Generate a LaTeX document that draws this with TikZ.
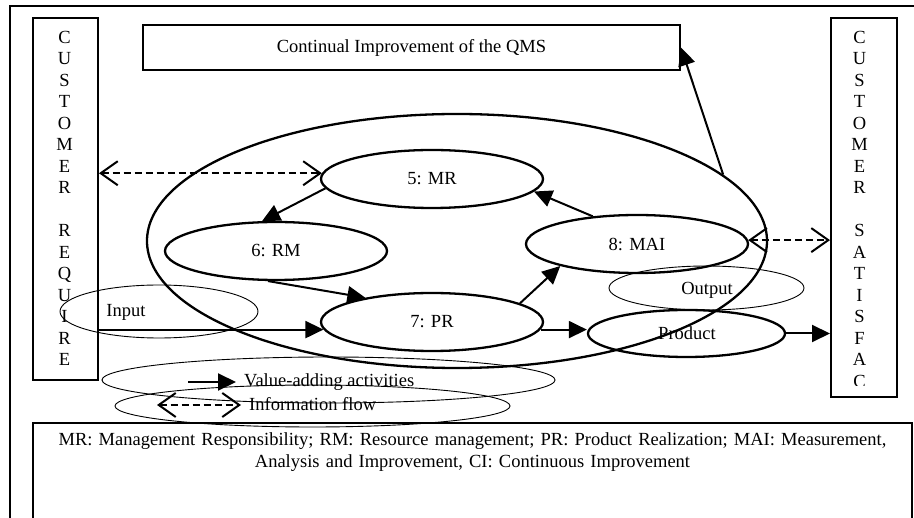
\documentclass[tikz,border=0pt]{standalone}
\usepackage{fontspec}
\setmainfont{Liberation Serif}
\usetikzlibrary{arrows.meta,shapes.geometric}
\newcommand\myfs{\fontsize{18.5}{22}\selectfont}
\begin{document}
\begin{tikzpicture}[x=1pt,y=-1pt,
  boxn/.style={draw, line width=2pt, rectangle, inner sep=0},
  proc/.style={draw, ellipse, line width=2.3pt, minimum width=222pt, minimum height=58pt, inner sep=0, font=\myfs},
  thinell/.style={draw, ellipse, line width=0.9pt, inner sep=0},
  flow/.style={line width=2pt, -{Triangle[length=18pt,width=17pt]}},
  info/.style={line width=2pt, dash pattern=on 7pt off 4pt, {Straight Barb[length=17pt,width=24pt]}-{Straight Barb[length=17pt,width=24pt]}},
  lbl/.style={inner sep=0, font=\myfs},
]
\useasboundingbox (0,0) rectangle (914,518);
\clip (0,0) rectangle (914,518);
\fill[white] (0,0) rectangle (914,518);
% outer frame
\draw[line width=2pt] (10,6) rectangle (940,560);
% boxes
\node[boxn, minimum width=65pt, minimum height=362pt] (custL) at (65.5,199) {};
\node[boxn, minimum width=66pt, minimum height=379pt] (custR) at (864,207.5) {};
\node[boxn, minimum width=537pt, minimum height=45pt, font=\myfs] (ci) at (411.5,47.5) {Continual Improvement of the QMS};
\node[boxn, minimum width=879pt, minimum height=130pt] (legend) at (472.5,488) {};
\node[lbl, anchor=north, align=center, text width=870pt] (legtext) at (472.5,432)
  {MR: Management Responsibility; RM: Resource management; PR: Product Realization; MAI: Measurement,\\ Analysis and Improvement, CI: Continuous Improvement};
% vertical letters
\foreach \ch [count=\i from 0] in {C,U,S,T,O,M,E,R,{},R,E,Q,U,I,R,E}
  \node[lbl, anchor=base] (l\i) at (64.5, 43.1+21.5*\i) {\ch};
\begin{scope}
\clip (831,18) rectangle (897,386);
\foreach \ch [count=\i from 0] in {C,U,S,T,O,M,E,R,{},S,A,T,I,S,F,A,C}
  \node[lbl, anchor=base] (r\i) at (859.5, 43.1+21.5*\i) {\ch};
\end{scope}
% big ellipse
\node[draw, ellipse, line width=2.3pt, minimum width=620pt, minimum height=254pt, inner sep=0] (big) at (457,241) {};
% process ellipses
\node[proc] (mr) at (432,179) {5: MR};
\node[proc] (rm) at (276,251) {6: RM};
\node[proc] (pr) at (432,322) {7: PR};
\node[proc] (mai) at (637,244) {8: MAI};
\node[draw, ellipse, line width=2.3pt, minimum width=197pt, minimum height=47pt, inner sep=0] (product) at (686.5,333.5) {};
\node[lbl] (producttext) at (687,333) {Product};
% thin ellipses
\node[thinell, minimum width=198pt, minimum height=53pt] (inputell) at (159,311.5) {};
\node[lbl] (inputtext) at (126,312) {Input};
\node[thinell, minimum width=195pt, minimum height=44pt] (outputell) at (706.5,288) {};
\node[lbl] (outputtext) at (707,290) {Output};
\node[thinell, minimum width=453pt, minimum height=46pt] (valell) at (328.5,380) {};
\node[thinell, minimum width=395pt, minimum height=42pt] (infoell) at (312.5,406) {};
% legend arrows and labels
\coordinate (va1) at (188,382);
\coordinate (va2) at (236,382);
\draw[flow] (va1) -- (va2);
\node[lbl, anchor=west] (vatext) at (244,382) {Value-adding activities};
\coordinate (if1) at (157,405);
\coordinate (if2) at (241,405);
\draw[info] (if1) -- (if2);
\node[lbl, anchor=west] (iftext) at (249,404) {Information flow};
% connectors
\draw[info] (custL.east |- mr.177) -- (mr.177);
\draw[info] (mai.2) -- (custR.west |- mai.2);
\draw[flow] (mr.185) -- (rm.115);
\draw[flow] (rm.255) -- (pr.160);
\draw[flow] (custL.east |- pr.184) -- (pr.184);
\draw[flow] (pr.12) -- (mai.196);
\draw[flow] (mai.148) -- (mr.353);
\draw[flow] (pr.356) -- (product.west |- pr.356);
\draw[flow] (product.east) -- (custR.west |- product.east);
\draw[flow] (big.14.5) -- (ci.east);
\end{tikzpicture}
\end{document}
